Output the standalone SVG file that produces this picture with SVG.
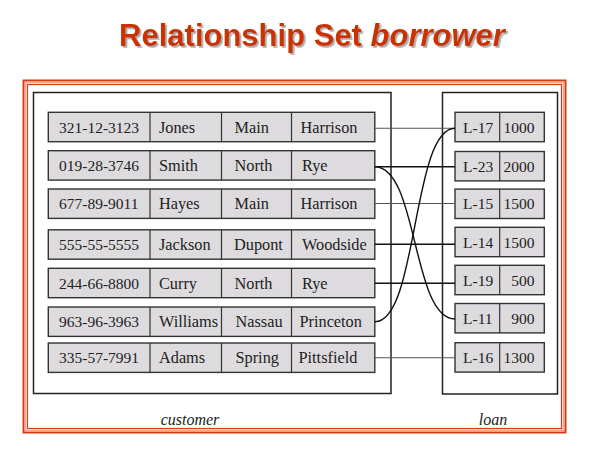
<svg xmlns="http://www.w3.org/2000/svg" width="596" height="475" viewBox="0 0 596 475">
<defs>
<filter id="shadow" x="-5%" y="-20%" width="110%" height="150%">
<feDropShadow dx="1.8" dy="1.8" stdDeviation="0.6" flood-color="#999" flood-opacity="0.8"/>
</filter>
</defs>
<style>
.title{font-family:"Liberation Sans",Arial,sans-serif;font-weight:bold;font-size:31px}
.cell{fill:#dddbde;stroke:#333;stroke-width:1.4}
.div{stroke:#333;stroke-width:1.2}
.t{font-family:"Liberation Serif","Times New Roman",serif;font-size:15.5px;fill:#222}
.w{font-size:16.3px}
.lbl{font-family:"Liberation Serif","Times New Roman",serif;font-size:16px;font-style:italic;fill:#222}
.box{fill:none;stroke:#222;stroke-width:1.5}
.ln{fill:none;stroke:#555;stroke-width:1.1}
.lnk{fill:none;stroke:#111;stroke-width:1.4}
</style>
<rect width="596" height="475" fill="#fff"/>
<g id="title">
<text class="title" x="312" y="46" text-anchor="middle" fill="#cc3300" filter="url(#shadow)">Relationship Set <tspan font-style="italic">borrower</tspan></text>
</g>
<g id="frame" fill="none">
<rect x="23.5" y="80.5" width="542" height="352" stroke="#d63c14" stroke-width="2"/>
<rect x="25.5" y="82.5" width="538" height="348" stroke="#f2a392" stroke-width="1.5"/>
<rect x="27.5" y="84.5" width="534" height="344" stroke="#d63c14" stroke-width="1.2"/>
</g>
<g id="customer">
<rect class="box" x="33.5" y="92.5" width="357.5" height="301"/>
<g id="c1"><rect class="cell" x="48.3" y="112.3" width="326.5" height="29.4"/><line class="div" x1="150" y1="112.3" x2="150" y2="141.7"/><line class="div" x1="221.5" y1="112.3" x2="221.5" y2="141.7"/><line class="div" x1="291.5" y1="112.3" x2="291.5" y2="141.7"/>
<text class="t" y="132.5"><tspan x="59">321-12-3123</tspan><tspan class="w" x="159">Jones</tspan><tspan class="w" x="234.5">Main</tspan><tspan class="w" x="300.5">Harrison</tspan></text></g>
<g id="c2"><rect class="cell" x="48.3" y="150.7" width="326.5" height="29.4"/><line class="div" x1="150" y1="150.7" x2="150" y2="180.1"/><line class="div" x1="221.5" y1="150.7" x2="221.5" y2="180.1"/><line class="div" x1="291.5" y1="150.7" x2="291.5" y2="180.1"/>
<text class="t" y="170.9"><tspan x="59">019-28-3746</tspan><tspan class="w" x="159">Smith</tspan><tspan class="w" x="234.5">North</tspan><tspan class="w" x="302">Rye</tspan></text></g>
<g id="c3"><rect class="cell" x="48.3" y="189" width="326.5" height="29.4"/><line class="div" x1="150" y1="189" x2="150" y2="218.4"/><line class="div" x1="221.5" y1="189" x2="221.5" y2="218.4"/><line class="div" x1="291.5" y1="189" x2="291.5" y2="218.4"/>
<text class="t" y="209.2"><tspan x="59">677-89-9011</tspan><tspan class="w" x="159">Hayes</tspan><tspan class="w" x="234.5">Main</tspan><tspan class="w" x="300.5">Harrison</tspan></text></g>
<g id="c4"><rect class="cell" x="48.3" y="229.8" width="326.5" height="29.4"/><line class="div" x1="150" y1="229.8" x2="150" y2="259.2"/><line class="div" x1="221.5" y1="229.8" x2="221.5" y2="259.2"/><line class="div" x1="291.5" y1="229.8" x2="291.5" y2="259.2"/>
<text class="t" y="250"><tspan x="59">555-55-5555</tspan><tspan class="w" x="159">Jackson</tspan><tspan class="w" x="234">Dupont</tspan><tspan class="w" x="302">Woodside</tspan></text></g>
<g id="c5"><rect class="cell" x="48.3" y="268.3" width="326.5" height="29.4"/><line class="div" x1="150" y1="268.3" x2="150" y2="297.7"/><line class="div" x1="221.5" y1="268.3" x2="221.5" y2="297.7"/><line class="div" x1="291.5" y1="268.3" x2="291.5" y2="297.7"/>
<text class="t" y="288.5"><tspan x="59">244-66-8800</tspan><tspan class="w" x="159">Curry</tspan><tspan class="w" x="234.5">North</tspan><tspan class="w" x="302">Rye</tspan></text></g>
<g id="c6"><rect class="cell" x="48.3" y="307" width="326.5" height="29.4"/><line class="div" x1="150" y1="307" x2="150" y2="336.4"/><line class="div" x1="221.5" y1="307" x2="221.5" y2="336.4"/><line class="div" x1="291.5" y1="307" x2="291.5" y2="336.4"/>
<text class="t" y="327.2"><tspan x="59">963-96-3963</tspan><tspan class="w" x="159">Williams</tspan><tspan class="w" x="235.5">Nassau</tspan><tspan class="w" x="299.5">Princeton</tspan></text></g>
<g id="c7"><rect class="cell" x="48.3" y="343" width="326.5" height="29.4"/><line class="div" x1="150" y1="343" x2="150" y2="372.4"/><line class="div" x1="221.5" y1="343" x2="221.5" y2="372.4"/><line class="div" x1="291.5" y1="343" x2="291.5" y2="372.4"/>
<text class="t" y="363.2"><tspan x="59">335-57-7991</tspan><tspan class="w" x="159">Adams</tspan><tspan class="w" x="235.5">Spring</tspan><tspan class="w" x="298.5">Pittsfield</tspan></text></g>
<text class="lbl" x="190" y="425" text-anchor="middle">customer</text>
</g>
<g id="loan">
<rect class="box" x="442.5" y="92.5" width="115" height="301.5"/>
<g id="l1"><rect class="cell" x="455" y="112.3" width="89.3" height="29.4"/><line class="div" x1="499.7" y1="112.3" x2="499.7" y2="141.7"/><text class="t" y="132.5"><tspan x="463">L-17</tspan><tspan x="534.5" text-anchor="end">1000</tspan></text></g>
<g id="l2"><rect class="cell" x="455" y="151.5" width="89.3" height="29.4"/><line class="div" x1="499.7" y1="151.5" x2="499.7" y2="180.9"/><text class="t" y="171.7"><tspan x="463">L-23</tspan><tspan x="534.5" text-anchor="end">2000</tspan></text></g>
<g id="l3"><rect class="cell" x="455" y="189.1" width="89.3" height="29.4"/><line class="div" x1="499.7" y1="189.1" x2="499.7" y2="218.5"/><text class="t" y="209.3"><tspan x="463">L-15</tspan><tspan x="534.5" text-anchor="end">1500</tspan></text></g>
<g id="l4"><rect class="cell" x="455" y="227.3" width="89.3" height="29.4"/><line class="div" x1="499.7" y1="227.3" x2="499.7" y2="256.7"/><text class="t" y="247.5"><tspan x="463">L-14</tspan><tspan x="534.5" text-anchor="end">1500</tspan></text></g>
<g id="l5"><rect class="cell" x="455" y="265.3" width="89.3" height="29.4"/><line class="div" x1="499.7" y1="265.3" x2="499.7" y2="294.7"/><text class="t" y="285.5"><tspan x="463">L-19</tspan><tspan x="534.5" text-anchor="end">500</tspan></text></g>
<g id="l6"><rect class="cell" x="455" y="303.5" width="89.3" height="29.4"/><line class="div" x1="499.7" y1="303.5" x2="499.7" y2="332.9"/><text class="t" y="323.7"><tspan x="463">L-11</tspan><tspan x="534.5" text-anchor="end">900</tspan></text></g>
<g id="l7"><rect class="cell" x="455" y="342.7" width="89.3" height="29.4"/><line class="div" x1="499.7" y1="342.7" x2="499.7" y2="372.1"/><text class="t" y="362.9"><tspan x="463">L-16</tspan><tspan x="534.5" text-anchor="end">1300</tspan></text></g>
<text class="lbl" x="493" y="425" text-anchor="middle">loan</text>
</g>
<g id="connectors">
<line class="ln" x1="374.8" y1="128.3" x2="455" y2="128.3"/>
<line class="lnk" x1="374.8" y1="166.7" x2="455" y2="166.7"/>
<line class="ln" x1="374.8" y1="203.5" x2="455" y2="203.5"/>
<line class="lnk" x1="374.8" y1="244.3" x2="455" y2="244.3"/>
<line class="lnk" x1="374.8" y1="283.3" x2="455" y2="283.3"/>
<line class="ln" x1="374.8" y1="357.7" x2="455" y2="357.7"/>
<path class="lnk" d="M374.8,166.7 C418,166.7 412,319 455,319"/>
<path class="lnk" d="M374.8,321.7 C418,321.7 412,128.3 455,128.3"/>
</g>
</svg>
